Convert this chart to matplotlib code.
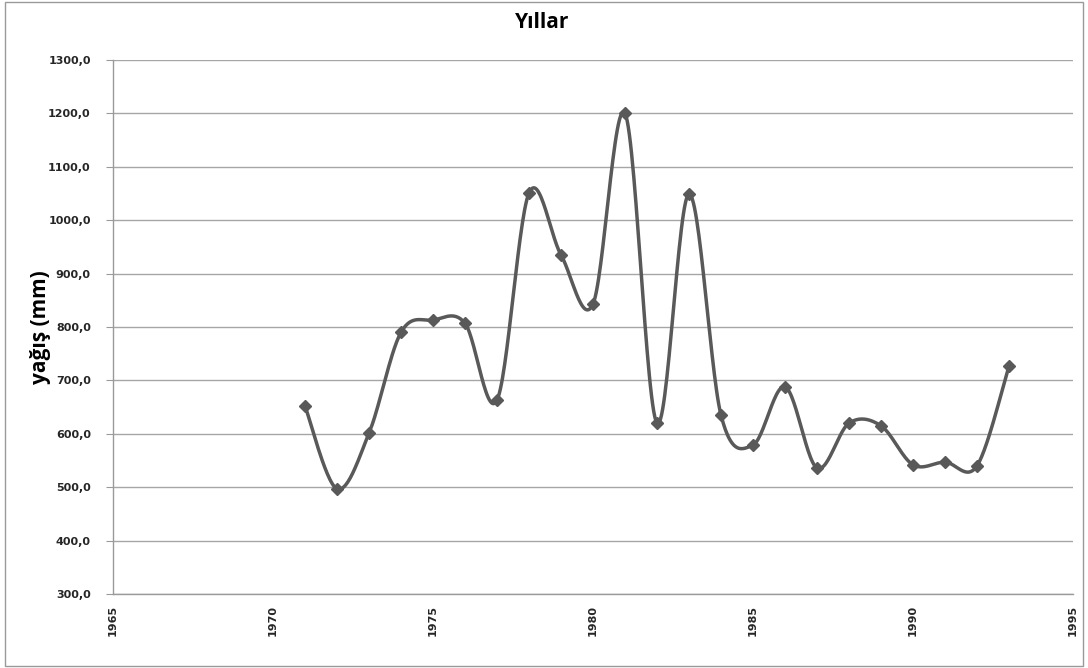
import numpy as np
import matplotlib.pyplot as plt
from matplotlib.patches import Rectangle

years = [1971, 1972, 1973, 1974, 1975, 1976, 1977, 1978, 1979, 1980, 1981, 1982,
         1983, 1984, 1985, 1986, 1987, 1988, 1989, 1990, 1991, 1992, 1993]
yagis = [652, 497, 601, 790, 813, 807, 663, 1051, 935, 843, 1200, 620,
         1049, 635, 579, 688, 536, 620, 615, 542, 547, 540, 727]

line_col = "#595959"


def smooth(x, y, n=30):
    # Excel style smoothed line: cubic bezier with catmull-rom control points
    x = np.asarray(x, float)
    y = np.asarray(y, float)
    xs, ys = [x[0]], [y[0]]
    t = np.linspace(0, 1, n)[1:]
    for i in range(len(x) - 1):
        i0 = max(i - 1, 0)
        i3 = min(i + 2, len(x) - 1)
        c1x = x[i] + (x[i + 1] - x[i0]) / 6
        c1y = y[i] + (y[i + 1] - y[i0]) / 6
        c2x = x[i + 1] - (x[i3] - x[i]) / 6
        c2y = y[i + 1] - (y[i3] - y[i]) / 6
        bx = (1-t)**3*x[i] + 3*(1-t)**2*t*c1x + 3*(1-t)*t**2*c2x + t**3*x[i+1]
        by = (1-t)**3*y[i] + 3*(1-t)**2*t*c1y + 3*(1-t)*t**2*c2y + t**3*y[i+1]
        xs.extend(bx)
        ys.extend(by)
    return np.array(xs), np.array(ys)


fig = plt.figure(figsize=(10.88, 6.68), dpi=100)
fig.patches.append(Rectangle((0.005, 0.003), 0.99, 0.994, transform=fig.transFigure,
                             fill=False, edgecolor="#9a9a9a", linewidth=1))
ax = fig.add_axes([113/1088, 74/668, 960/1088, 534/668])

sx, sy = smooth(years, yagis)
ax.plot(sx, sy, color=line_col, linewidth=2.5, zorder=3)
ax.plot(years, yagis, linestyle="none", marker="D", markersize=6.5,
        color=line_col, zorder=4)

ax.set_xlim(1965, 1995)
ax.set_ylim(300, 1300)
ax.set_xticks(range(1965, 1996, 5))
ax.set_yticks(range(300, 1301, 100))
ax.set_yticklabels([f"{v},0" for v in range(300, 1301, 100)])
ax.yaxis.grid(True, color="#a6a6a6", linewidth=1)
ax.set_axisbelow(True)

for s in ["top", "right"]:
    ax.spines[s].set_visible(False)
for s in ["left", "bottom"]:
    ax.spines[s].set_color("#9a9a9a")
    ax.spines[s].set_linewidth(1)

ax.tick_params(axis="y", length=5, color="#9a9a9a", labelsize=8, pad=11)
ax.tick_params(axis="x", length=0, labelsize=8, pad=8, labelrotation=90)
for lab in ax.get_xticklabels() + ax.get_yticklabels():
    lab.set_fontweight("bold")
    lab.set_color("#262626")

fig.text(0.498, 1 - 22/668, "Yıllar", fontsize=15, fontweight="bold",
         family="Open Sans", ha="center", va="center")
ax.set_ylabel("yağış (mm)", fontsize=15, fontweight="bold", family="Open Sans")
ax.yaxis.set_label_coords(-62/960, 0.5)

fig.savefig("out.png", dpi=100)
